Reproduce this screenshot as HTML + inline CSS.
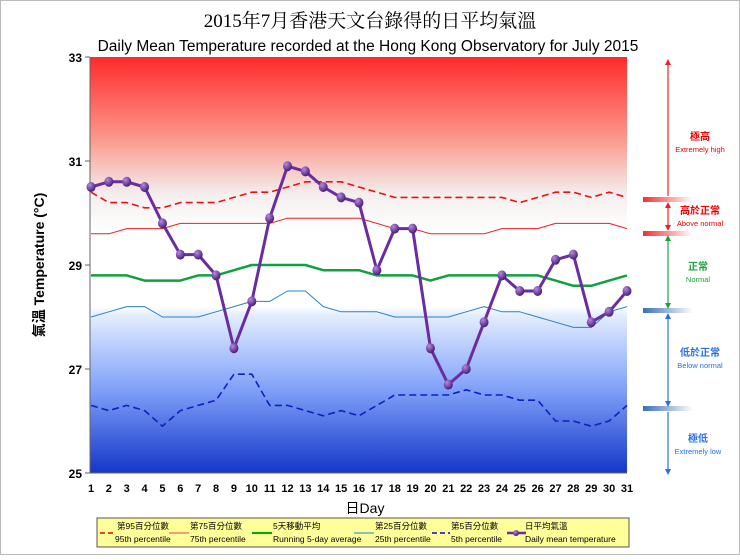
<!DOCTYPE html>
<html><head><meta charset="utf-8"><style>
body{margin:0;background:#fff;}
svg text{font-family:"Liberation Sans","Noto Sans CJK TC",sans-serif;}
</style></head><body>
<svg width="740" height="555" viewBox="0 0 740 555" xmlns="http://www.w3.org/2000/svg">
<defs>
<linearGradient id="bg" x1="0" y1="0" x2="0" y2="1">
<stop offset="0" stop-color="#ff2a2a"/>
<stop offset="0.2" stop-color="#fb9a8e"/>
<stop offset="0.33" stop-color="#f4eeee"/>
<stop offset="0.42" stop-color="#ffffff"/>
<stop offset="0.6" stop-color="#ffffff"/>
<stop offset="0.62" stop-color="#e4eeff"/>
<stop offset="0.8" stop-color="#7fa0f8"/>
<stop offset="1" stop-color="#1536c8"/>
</linearGradient>
<linearGradient id="rb" x1="0" x2="1"><stop offset="0" stop-color="#f03030"/><stop offset="1" stop-color="#f03030" stop-opacity="0"/></linearGradient>
<linearGradient id="bb" x1="0" x2="1"><stop offset="0" stop-color="#3a70b8"/><stop offset="1" stop-color="#3a70b8" stop-opacity="0"/></linearGradient>
<radialGradient id="ball" cx="0.35" cy="0.3" r="0.7"><stop offset="0" stop-color="#b58ae0"/><stop offset="1" stop-color="#4a1d7a"/></radialGradient>
<marker id="ar" viewBox="0 0 10 10" refX="5" refY="5" markerWidth="5" markerHeight="5" orient="auto-start-reverse"><path d="M0,0L10,5L0,10z" fill="#f02020"/></marker>
<marker id="ag" viewBox="0 0 10 10" refX="5" refY="5" markerWidth="5" markerHeight="5" orient="auto-start-reverse"><path d="M0,0L10,5L0,10z" fill="#20a040"/></marker>
<marker id="ab" viewBox="0 0 10 10" refX="5" refY="5" markerWidth="5" markerHeight="5" orient="auto-start-reverse"><path d="M0,0L10,5L0,10z" fill="#2a70e0"/></marker>
</defs>
<rect x="0.5" y="0.5" width="739" height="554" fill="#fff" stroke="#bbb"/>
<text x="370" y="27" text-anchor="middle" font-size="19" style="font-family:'Liberation Serif','Noto Serif CJK SC',serif">2015年7月香港天文台錄得的日平均氣溫</text>
<text x="368" y="51" text-anchor="middle" font-size="15.5">Daily Mean Temperature recorded at the Hong Kong Observatory for July 2015</text>
<rect x="90" y="57" width="537" height="416" fill="url(#bg)"/>
<g id="axes"></g>
<g id="series"></g>
<text transform="translate(44,265) rotate(-90)" text-anchor="middle" font-size="14" font-weight="bold">氣溫  Temperature (°C)</text>
<text x="365" y="513" text-anchor="middle" font-size="14">日Day</text>
<g>
<line x1="668" y1="62" x2="668" y2="196" stroke="#f02020" stroke-width="1.2" marker-start="url(#ar)"/>
<line x1="668" y1="205" x2="668" y2="228" stroke="#f02020" stroke-width="1.2" marker-start="url(#ar)" marker-end="url(#ar)"/>
<line x1="668" y1="238" x2="668" y2="306" stroke="#20a040" stroke-width="1.2" marker-start="url(#ag)" marker-end="url(#ag)"/>
<line x1="668" y1="316" x2="668" y2="404" stroke="#2a70e0" stroke-width="1.2" marker-start="url(#ab)" marker-end="url(#ab)"/>
<line x1="668" y1="412" x2="668" y2="472" stroke="#2a70e0" stroke-width="1.2" marker-end="url(#ab)"/>
<rect x="643" y="197" width="50" height="5" fill="url(#rb)"/>
<rect x="643" y="231" width="50" height="5" fill="url(#rb)"/>
<rect x="643" y="308" width="50" height="5" fill="url(#bb)"/>
<rect x="643" y="406" width="50" height="5" fill="url(#bb)"/>
<text x="700" y="140" text-anchor="middle" font-size="10" fill="#e00" font-weight="bold">極高</text>
<text x="700" y="152" text-anchor="middle" font-size="7.5" fill="#e00">Extremely high</text>
<text x="700" y="214" text-anchor="middle" font-size="10" fill="#e00" font-weight="bold">高於正常</text>
<text x="700" y="226" text-anchor="middle" font-size="7.5" fill="#e00">Above normal</text>
<text x="698" y="270" text-anchor="middle" font-size="10" fill="#20a040" font-weight="bold">正常</text>
<text x="698" y="282" text-anchor="middle" font-size="7.5" fill="#20a040">Normal</text>
<text x="700" y="356" text-anchor="middle" font-size="10" fill="#2a70e0" font-weight="bold">低於正常</text>
<text x="700" y="368" text-anchor="middle" font-size="7.5" fill="#2a70e0">Below normal</text>
<text x="698" y="442" text-anchor="middle" font-size="10" fill="#2a70e0" font-weight="bold">極低</text>
<text x="698" y="454" text-anchor="middle" font-size="7.5" fill="#2a70e0">Extremely low</text>
</g>
<g>
<rect x="97" y="518" width="532" height="29" fill="#ffff99" stroke="#555"/>
<g font-size="8.5">
<line x1="100" y1="533" x2="116" y2="533" stroke="#e00" stroke-dasharray="5,3" stroke-width="1.5"/><text x="117" y="529">第95百分位數</text><text x="115" y="542">95th percentile</text>
<line x1="169" y1="533" x2="189" y2="533" stroke="#f08060" stroke-width="1.5"/><text x="190" y="529">第75百分位數</text><text x="190" y="542">75th percentile</text>
<line x1="252" y1="533" x2="272" y2="533" stroke="#0a0" stroke-width="2"/><text x="273" y="529">5天移動平均</text><text x="273" y="542">Running 5-day average</text>
<line x1="354" y1="533" x2="374" y2="533" stroke="#4a9ad0" stroke-width="1.2"/><text x="375" y="529">第25百分位數</text><text x="375" y="542">25th percentile</text>
<line x1="432" y1="533" x2="450" y2="533" stroke="#10c" stroke-dasharray="5,3" stroke-width="1.5"/><text x="451" y="529">第5百分位數</text><text x="451" y="542">5th percentile</text>
<line x1="507" y1="533" x2="526" y2="533" stroke="#6a2ca0" stroke-width="2.5"/><circle cx="516" cy="533" r="3" fill="url(#ball)"/><text x="525" y="529">日平均氣溫</text><text x="525" y="542">Daily mean temperature</text>
</g></g>
<script>
const days=[1,2,3,4,5,6,7,8,9,10,11,12,13,14,15,16,17,18,19,20,21,22,23,24,25,26,27,28,29,30,31];
const yTicks=[25,27,29,31,33];
const dailyMean=[30.5,30.6,30.6,30.5,29.8,29.2,29.2,28.8,27.4,28.3,29.9,30.9,30.8,30.5,30.3,30.2,28.9,29.7,29.7,27.4,26.7,27.0,27.9,28.8,28.5,28.5,29.1,29.2,27.9,28.1,28.5];
const p95=[30.4,30.2,30.2,30.1,30.1,30.2,30.2,30.2,30.3,30.4,30.4,30.5,30.6,30.6,30.6,30.5,30.4,30.3,30.3,30.3,30.3,30.3,30.3,30.3,30.2,30.3,30.4,30.4,30.3,30.4,30.3];
const p75=[29.6,29.6,29.7,29.7,29.7,29.8,29.8,29.8,29.8,29.8,29.8,29.9,29.9,29.9,29.9,29.9,29.8,29.7,29.7,29.6,29.6,29.6,29.6,29.7,29.7,29.7,29.8,29.8,29.8,29.8,29.7];
const avg5=[28.8,28.8,28.8,28.7,28.7,28.7,28.8,28.8,28.9,29.0,29.0,29.0,29.0,28.9,28.9,28.9,28.8,28.8,28.8,28.7,28.8,28.8,28.8,28.8,28.8,28.8,28.7,28.6,28.6,28.7,28.8];
const p25=[28.0,28.1,28.2,28.2,28.0,28.0,28.0,28.1,28.2,28.3,28.3,28.5,28.5,28.2,28.1,28.1,28.1,28.0,28.0,28.0,28.0,28.1,28.2,28.1,28.1,28.0,27.9,27.8,27.8,28.1,28.2];
const p5=[26.3,26.2,26.3,26.2,25.9,26.2,26.3,26.4,26.9,26.9,26.3,26.3,26.2,26.1,26.2,26.1,26.3,26.5,26.5,26.5,26.5,26.6,26.5,26.5,26.4,26.4,26.0,26.0,25.9,26.0,26.3];
const NS='http://www.w3.org/2000/svg';
const X=d=>91+(d-1)*(536/30);
const Y=t=>473-(t-25)*52;
const axes=document.getElementById('axes'),ser=document.getElementById('series');
function mk(tag,attrs,parent){const e=document.createElementNS(NS,tag);for(const k in attrs)e.setAttribute(k,attrs[k]);parent.appendChild(e);return e;}
const ax=mk('path',{d:`M90,57V473H627`,fill:'none',stroke:'#666','stroke-width':1},axes);


yTicks.forEach(t=>{
 const tk=mk('line',{x1:85,x2:90,y1:Y(t),y2:Y(t),stroke:'#666'},axes);
 
 
 const tl=mk('text',{x:82,y:Y(t)+5,'text-anchor':'end','font-size':12,'font-weight':'bold'},axes);
 tl.textContent=t;
 
 
});
days.forEach(d=>{
 const tl=mk('text',{x:X(d),y:492,'text-anchor':'middle','font-size':11,'font-weight':'bold'},axes);
 tl.textContent=d;
 
 
});
function line(arr,style,name){
 const p=mk('polyline',Object.assign({points:arr.map((v,i)=>X(days[i])+','+Y(v)).join(' '),fill:'none','stroke-linejoin':'round'},style),ser);
 
 
}
line(p95,{stroke:'#ee1111','stroke-width':1.6,'stroke-dasharray':'7,4'},'p95-line');
line(p75,{stroke:'#ee2020','stroke-width':1},'p75-line');
line(avg5,{stroke:'#10a040','stroke-width':2.5},'running-average-line');
line(p25,{stroke:'#2a80c8','stroke-width':1},'p25-line');
line(p5,{stroke:'#1020c0','stroke-width':1.6,'stroke-dasharray':'7,4'},'p5-line');
line(dailyMean,{stroke:'#6a2ca0','stroke-width':3},'daily-mean-line');
dailyMean.forEach((v,i)=>{
 const c=mk('ellipse',{cx:X(days[i]),cy:Y(v),rx:4.5,ry:5,fill:'url(#ball)'},ser);
 
 
});
</script>
</svg>
</body></html>
